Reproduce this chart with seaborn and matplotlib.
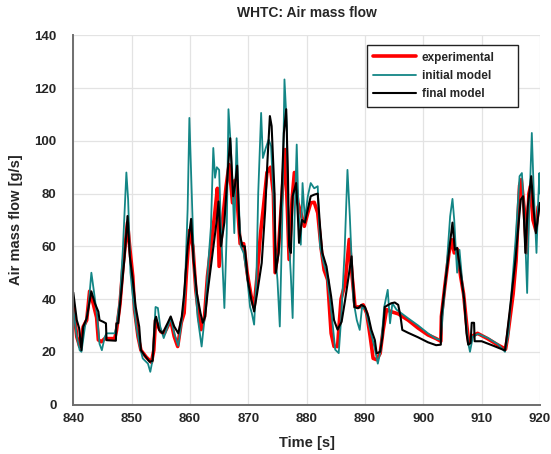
"""
WHTC air mass flow: experimental vs initial / final model
"""

import pandas as pd
import matplotlib
matplotlib.use("Agg")
import matplotlib.pyplot as plt
import seaborn as sns

# ---------------------------------------------------------------------
# DATA
# ---------------------------------------------------------------------
exp_t = [840.0, 840.6, 841.1, 841.7, 842.3, 842.8, 843.4, 844.0, 844.3, 844.8,
         845.4, 846.0, 847.1, 847.4, 848.0, 848.5, 849.1, 849.3, 849.7, 850.2,
         850.5, 851.1, 851.6, 852.5, 853.4, 853.8, 854.1, 854.5, 855.0, 855.6,
         856.7, 857.3, 857.9, 858.5, 859.0, 859.4, 859.9, 860.5, 861.0, 861.6,
         861.9, 862.5, 863.0, 863.6, 864.2, 864.7, 865.0, 865.6, 866.2, 866.7,
         867.3, 867.7, 868.2, 868.6, 869.2, 869.8, 870.5, 871.0, 871.5, 872.1,
         872.6, 873.2, 873.8, 874.3, 874.6, 875.2, 875.8, 876.3, 876.7, 877.0,
         877.5, 877.9, 878.5, 879.0, 879.6, 880.2, 880.7, 881.3, 881.9, 882.5,
         883.0, 883.6, 884.2, 884.7, 885.3, 885.9, 886.6, 887.3, 887.8, 888.3,
         889.1, 889.7, 890.3, 890.9, 891.4, 892.0, 892.6, 893.1, 893.7, 894.5,
         895.7, 897.4, 899.1, 900.8, 902.2, 903.0, 903.1, 903.7, 904.4, 904.9,
         905.3, 905.8, 906.4, 906.9, 907.4, 907.8, 908.4, 909.3, 911.0, 912.7,
         914.1, 914.4, 915.4, 915.9, 916.5, 916.8, 917.3, 917.7, 918.1, 918.4,
         918.8, 919.3, 919.7, 920.0]
exp_v = [38, 25.7, 22, 29.5, 32, 43, 38.4, 33, 24.5, 23.8,
         25, 25, 25, 28, 38, 52, 65, 69, 59, 48.6,
         36, 25.7, 20.6, 18, 16, 20.6, 32, 30, 27.6, 27,
         32, 25.8, 22, 31, 34.7, 50, 66, 60, 43.5, 32,
         28.4, 33.4, 48.6, 60, 71.4, 82, 52.4, 70, 82.8, 91,
         76.5, 85, 74, 61, 61, 50, 41, 37, 48.6, 65,
         75, 88, 90, 80, 50, 60, 80, 96.7, 74, 55,
         77.7, 88, 76.5, 72.7, 67.6, 72.7, 76.5, 76.7, 72.7, 59,
         51, 47.3, 27, 22, 22, 40, 46, 62.6, 48.6, 37,
         37, 37.8, 34.6, 25.7, 17.5, 17, 19.4, 28, 36, 35.2,
         34.4, 32, 29, 26.4, 25, 24, 33.4, 45, 57.5, 62.5,
         57.5, 59, 48.6, 42, 31, 23.3, 26, 27, 25, 22.7,
         21, 25, 42, 54.5, 83, 85.3, 74, 57.5, 80, 83,
         70, 66, 75, 76]

init_t = [840.0, 840.6, 841.1, 841.4, 842.0, 842.6, 843.1, 843.5, 844.1, 844.5,
          844.9, 845.4, 845.7, 847.1, 847.4, 848.0, 848.5, 849.1, 849.4, 849.8,
          850.2, 850.8, 851.4, 851.9, 852.8, 853.2, 853.6, 854.1, 854.5, 854.9,
          855.5, 856.2, 856.7, 857.3, 858.0, 858.6, 859.1, 859.6, 859.9, 860.3,
          860.7, 861.3, 862.0, 862.6, 863.1, 863.6, 864.0, 864.3, 864.6, 865.0,
          865.3, 865.9, 866.3, 866.6, 867.0, 867.3, 867.6, 868.0, 868.3, 868.7,
          869.2, 869.8, 870.3, 870.6, 871.0, 871.4, 871.7, 872.2, 872.5, 873.0,
          873.5, 873.9, 874.3, 874.7, 875.0, 875.4, 875.8, 876.2, 876.6, 876.9,
          877.3, 877.6, 877.9, 878.3, 878.6, 879.0, 879.3, 879.7, 880.2, 880.7,
          881.3, 881.9, 882.3, 882.9, 883.4, 884.0, 884.5, 884.9, 885.5, 885.9,
          886.5, 887.0, 887.4, 888.0, 888.6, 889.1, 889.5, 890.1, 890.9, 891.6,
          892.2, 892.7, 893.3, 893.9, 894.3, 894.7, 895.4, 897.4, 899.1, 900.8,
          902.2, 903.0, 903.3, 904.0, 904.6, 905.0, 905.3, 905.6, 905.8, 906.2,
          906.7, 907.3, 907.7, 908.0, 908.5, 909.4, 911.1, 912.9, 914.0, 914.6,
          915.1, 915.8, 916.5, 916.9, 917.4, 917.8, 918.1, 918.6, 918.9, 919.4,
          919.7, 919.9, 920.0]
init_v = [36, 25.7, 20.6, 20, 29.5, 37, 50, 43.5, 33.3, 23,
          20.6, 25.7, 27, 27, 29.5, 40, 58.8, 88, 77.8, 50,
          41, 29.5, 22, 17.5, 15.5, 12.4, 17, 37, 36.6, 29.6,
          25.2, 29.6, 32.8, 27, 22.3, 32, 42, 74, 108.7, 80,
          52.4, 33.4, 22, 34.7, 52.4, 67.6, 97.3, 86, 90, 89,
          67.6, 36.6, 65, 112, 98, 82.8, 65, 101, 80, 60,
          57.5, 48.6, 37, 34.7, 30.3, 48.6, 80, 110.6, 93.5, 97.3,
          100.5, 98, 80, 55, 47.3, 29.6, 67.6, 123.3, 105.6, 65,
          48.6, 32.8, 67.6, 98.6, 74, 60.6, 84, 70, 79, 84,
          82, 82.8, 60, 53.7, 50, 40, 29.6, 20.8, 19.5, 32,
          57.5, 89, 71.5, 39.7, 32, 28.3, 37, 36, 28.3, 22,
          15.5, 20.6, 37, 43.5, 30.8, 38.4, 36, 32.7, 30, 27,
          25, 24.5, 33.4, 52.4, 71.4, 78, 70, 57.5, 50, 58.7,
          46, 32, 23.3, 20, 25.8, 26.8, 25.2, 22.7, 20, 27,
          42, 62, 86.6, 87.8, 67.6, 42.3, 70, 103, 82.8, 57.5,
          77.7, 87.8, 80]

final_t = [840.0, 840.6, 841.0, 841.4, 841.7, 842.3, 843.1, 843.7, 844.3, 844.5,
           845.1, 845.6, 845.7, 847.3, 847.4, 847.7, 848.2, 848.8, 849.3, 849.7,
           850.2, 850.7, 851.3, 851.6, 852.2, 853.1, 853.6, 854.0, 854.2, 854.7,
           855.3, 856.2, 856.7, 857.3, 858.0, 858.6, 859.0, 859.6, 860.2, 860.6,
           861.2, 861.8, 862.2, 862.6, 863.0, 863.6, 864.2, 864.6, 864.9, 865.3,
           865.9, 866.5, 866.9, 867.4, 867.7, 868.1, 868.5, 869.0, 869.4, 869.9,
           870.5, 871.0, 871.5, 872.3, 872.9, 873.3, 873.7, 874.0, 874.5, 874.7,
           875.2, 875.7, 876.1, 876.5, 876.8, 877.0, 877.3, 877.6, 878.2, 878.5,
           878.7, 879.2, 879.7, 880.2, 880.7, 881.3, 881.9, 882.3, 882.7, 883.4,
           884.2, 884.7, 885.3, 886.0, 886.6, 887.2, 887.7, 888.2, 888.8, 889.4,
           890.0, 890.6, 891.1, 891.7, 892.0, 892.6, 893.0, 893.4, 894.0, 894.5,
           895.1, 895.7, 896.1, 896.4, 897.4, 899.1, 900.8, 902.2, 903.0, 903.1,
           903.7, 904.3, 905.0, 905.4, 905.8, 906.4, 907.0, 907.4, 907.7, 908.1,
           908.3, 908.7, 908.8, 910.0, 912.0, 914.0, 914.3, 915.1, 915.8, 916.7,
           917.1, 917.5, 917.9, 918.5, 918.9, 919.3, 919.7, 920.0]
final_v = [42.5, 32, 29, 20.6, 29.5, 32.7, 42.9, 38.4, 35.2, 32,
           31.4, 30.8, 24.4, 24.2, 30.8, 30.8, 42, 56, 71.5, 56,
           47.3, 37, 29.5, 20.6, 18.7, 16.2, 16.6, 32, 33.3, 28.3,
           27, 31, 33.4, 29.6, 27, 33.4, 42, 60, 70.4, 55,
           42, 34.7, 31, 33.4, 42, 52.4, 62.5, 70, 77, 60,
           69, 89, 101, 79, 82.8, 90.6, 65, 60, 60, 47.3,
           40, 35.3, 42, 53.7, 74, 93, 109.4, 105.6, 80, 50,
           57.5, 80, 103, 112, 86.6, 60, 57.5, 79, 84, 71.4,
           61.3, 70, 69, 74, 79, 79.6, 80, 67.6, 57.5, 52.4,
           41, 32, 28.4, 31.4, 39.7, 48.6, 56.2, 37, 36.5, 37.8,
           37, 33.3, 28.3, 24.4, 19.4, 20, 25.7, 37, 37.8, 38.4,
           38.7, 37.8, 33.3, 28.3, 27.2, 25.5, 23.6, 22.5, 22.7, 33.4,
           45, 56, 69, 58.7, 59.4, 50, 40, 27, 22.7, 23.3,
           31, 31, 24, 24, 22.3, 20.5, 25.8, 41, 55, 77.7,
           79, 57.5, 75, 86.6, 74, 65, 71.4, 76.5]

x_ticks = [840, 850, 860, 870, 880, 890, 900, 910, 920]
y_ticks = [0, 20, 40, 60, 80, 100, 120, 140]

df = pd.concat([
    pd.DataFrame({"time": exp_t, "flow": exp_v, "series": "experimental"}),
    pd.DataFrame({"time": init_t, "flow": init_v, "series": "initial model"}),
    pd.DataFrame({"time": final_t, "flow": final_v, "series": "final model"}),
])

# Style settings
sns.set_theme(style="whitegrid")
plt.rcParams["font.family"] = ["Liberation Sans", "DejaVu Sans"]
plt.rcParams["font.weight"] = "bold"
COLORS = {"experimental": "#ff0000", "initial model": "#138686", "final model": "#000000"}
WIDTHS = {"experimental": 2.6, "initial model": 1.3, "final model": 1.5}

fig, ax = plt.subplots(figsize=(5.51, 4.54), dpi=100)
fig.subplots_adjust(left=0.133, right=0.980, top=0.922, bottom=0.109)

for name in ["experimental", "initial model", "final model"]:
    sns.lineplot(data=df[df["series"] == name], x="time", y="flow",
                 color=COLORS[name], linewidth=WIDTHS[name], label=name,
                 ax=ax, sort=False, estimator=None)

ax.set_xlim(840, 920)
ax.set_ylim(0, 140)
ax.set_xticks(x_ticks)
ax.set_yticks(y_ticks)
ax.grid(True, color="#e3e3e3", linewidth=0.9)
ax.set_facecolor("white")
for side in ["top", "right"]:
    ax.spines[side].set_visible(False)
for side in ["left", "bottom"]:
    ax.spines[side].set_color("#6e6e6e")
    ax.spines[side].set_linewidth(1.4)
ax.tick_params(direction="in", length=4, width=1, color="#333333",
               labelsize=9.5, labelcolor="#262626")
ax.tick_params(axis="x", pad=6)
ax.tick_params(axis="y", pad=12)
for lab in ax.get_xticklabels() + ax.get_yticklabels():
    lab.set_fontweight("bold")

ax.set_title("WHTC: Air mass flow", fontsize=10, fontweight="bold", pad=13)
ax.set_xlabel("Time [s]", fontsize=10.5, fontweight="bold", labelpad=8)
ax.set_ylabel("Air mass flow [g/s]", fontsize=10.5, fontweight="bold", labelpad=8)

leg = ax.legend(loc="upper left", bbox_to_anchor=(0.629, 0.5, 0.324, 0.474),
                mode="expand", borderaxespad=0, fancybox=False,
                framealpha=1, edgecolor="#222222", fontsize=8.5, handlelength=3.6,
                borderpad=0.55, labelspacing=0.55, handletextpad=0.5)
leg.get_frame().set_linewidth(1.0)
for txt in leg.get_texts():
    txt.set_fontweight("bold")

plt.savefig("out.png", dpi=100)
